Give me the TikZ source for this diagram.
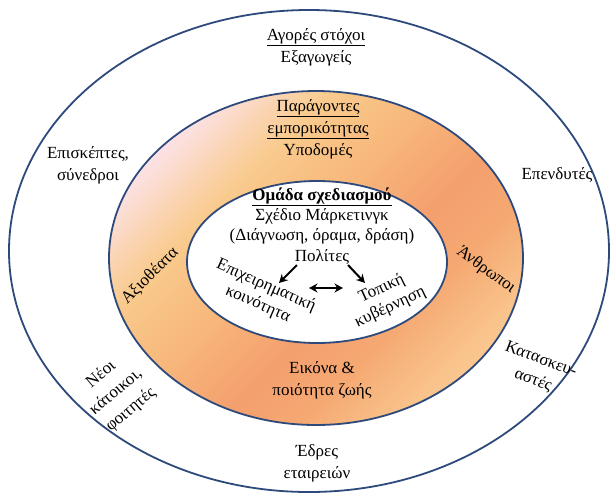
\documentclass[tikz,border=0pt]{standalone}
\usepackage{fontspec}
\setmainfont{Liberation Serif}
\usetikzlibrary{arrows.meta}
\definecolor{edge}{HTML}{2E4A7C}
\definecolor{gA}{HTML}{FCE4EE}
\definecolor{gB}{HTML}{F9CB8E}
\definecolor{gC}{HTML}{F8B97C}
\definecolor{gD}{HTML}{F4A06E}
\definecolor{gE}{HTML}{F5A872}
\definecolor{gF}{HTML}{F9C28A}
\definecolor{gG}{HTML}{FCDCA8}
\begin{document}
\begin{tikzpicture}[x=1pt,y=1pt,
  txt/.style={font=\fontsize{17}{22}\selectfont, align=center, inner sep=0pt},
  intxt/.style={font=\fontsize{17}{20.3}\selectfont, align=center, inner sep=0pt},
  ringline/.style={draw=edge, line width=1.8pt},
  arr/.style={-{Stealth[length=8.5pt,width=9pt]}, line width=2pt},
  darr/.style={{Stealth[length=8.5pt,width=9pt]}-{Stealth[length=8.5pt,width=9pt]}, line width=2pt}]
\useasboundingbox (0,0) rectangle (610,-499);
\fill[white] (0,0) rectangle (610,-499);
% outer ellipse
\draw[ringline, fill=white] (309,-251) ellipse [x radius=300, y radius=241];
% middle ring gradient
\begin{scope}
\clip (316,-258) ellipse [x radius=207, y radius=167];
\foreach \lo/\hi/\cl/\ch in {100/300/gA/gA, 300/420/gA/gB, 420/520/gB/gC, 520/640/gC/gD, 640/720/gD/gE, 720/810/gE/gF, 810/960/gF/gG} {
  \pgfmathtruncatemacro\nxt{\lo+4}
  \foreach \pos in {\lo,\nxt,...,\hi} {
    \pgfmathtruncatemacro\pct{(\hi-\pos)/(\hi-\lo)*100}
    \colorlet{stripc}{\cl!\pct!\ch}
    \fill[stripc] (\pos+50,50) -- (\pos+55,50) -- (\pos-495,-550) -- (\pos-550,-550) -- cycle;
  }
}
\end{scope}
\draw[ringline] (316,-258) ellipse [x radius=207, y radius=167];
% inner ellipse
\draw[ringline, fill=white] (317,-262) ellipse [x radius=130, y radius=81];
% outer texts
\node[txt] (agores) at (316,-47) {\underline{Αγορές στόχοι}\\Εξαγωγείς};
\node[txt] (episk) at (88,-165) {Επισκέπτες,\\σύνεδροι};
\node[txt] (ependy) at (557,-175) {Επενδυτές};
\node[txt, rotate=40, font=\fontsize{17}{23}\selectfont] (neoi) at (116,-392) {Νέοι\\κάτοικοι,\\φοιτητές};
\node[txt, rotate=-21] (kataskeu) at (537,-370) {Κατασκευ-\\αστές};
\node[txt] (edres) at (317,-463) {Έδρες\\εταιρειών};
% ring texts
\node[txt] (parag) at (318,-129) {\underline{Παράγοντες}\\\underline{εμπορικότητας}\\Υποδομές};
\node[txt, rotate=45] (axio) at (150,-276) {Αξιοθέατα};
\node[txt, rotate=-36] (anthr) at (486,-270) {Άνθρωποι};
\node[txt] (eikona) at (322,-380) {Εικόνα \&\\ποιότητα ζωής};
% inner texts
\node[intxt] (omada) at (322,-226) {\textbf{\underline{Ομάδα σχεδιασμού}}\\Σχέδιο Μάρκετινγκ\\(Διάγνωση, όραμα, δράση)\\Πολίτες};
\node[intxt, rotate=-24] (epix) at (262,-295) {Επιχειρηματική\\κοινότητα};
\node[intxt, rotate=25] (topiki) at (386,-298) {Τοπική\\κυβέρνηση};
% arrows
\coordinate (a1s) at (297,-265);
\coordinate (a1e) at (279,-283);
\coordinate (a2s) at (348,-265);
\coordinate (a2e) at (365,-283);
\coordinate (a3s) at (309,-288);
\coordinate (a3e) at (343,-288);
\draw[arr] (a1s) -- (a1e);
\draw[arr] (a2s) -- (a2e);
\draw[darr] (a3s) -- (a3e);
\end{tikzpicture}
\end{document}
